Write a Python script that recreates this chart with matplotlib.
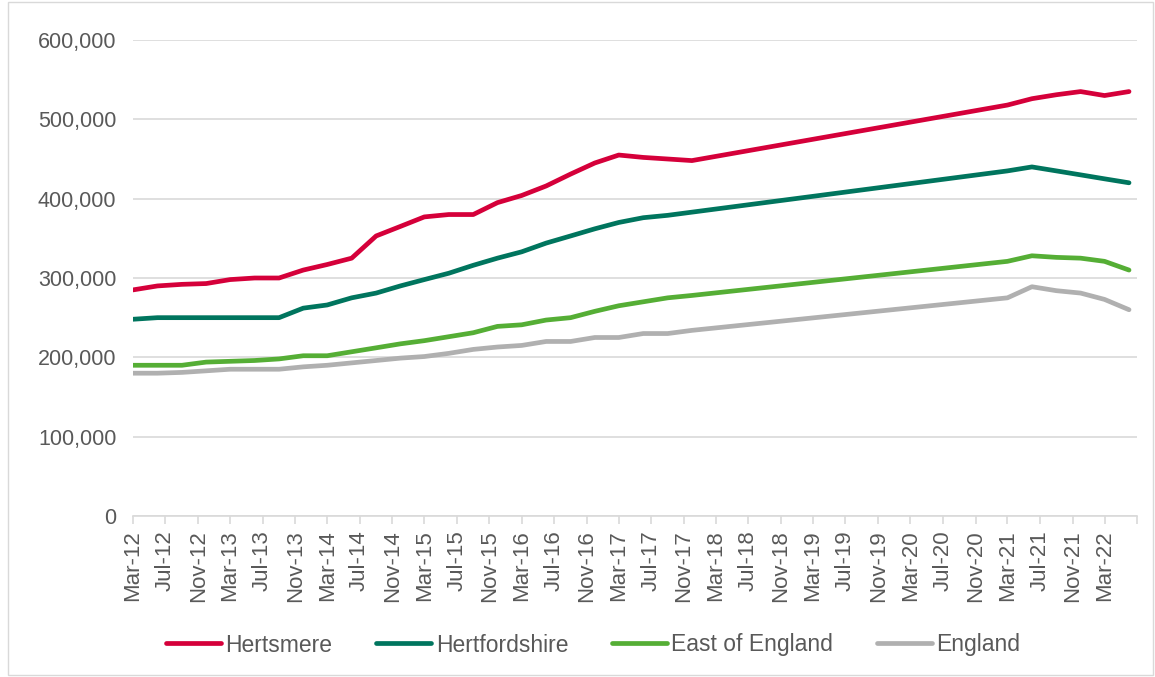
import matplotlib
matplotlib.use("Agg")
import matplotlib.pyplot as plt
import matplotlib.dates as mdates
from matplotlib.patches import Rectangle
from matplotlib.ticker import FuncFormatter, MultipleLocator
import datetime as dt

plt.rcParams['font.family'] = ['Liberation Sans', 'DejaVu Sans']

# Data (quarterly observations; 2018-2020 not plotted as separate points)
dates = ["2012-03", "2012-06", "2012-09", "2012-12",
         "2013-03", "2013-06", "2013-09", "2013-12",
         "2014-03", "2014-06", "2014-09", "2014-12",
         "2015-03", "2015-06", "2015-09", "2015-12",
         "2016-03", "2016-06", "2016-09", "2016-12",
         "2017-03", "2017-06", "2017-09", "2017-12",
         "2021-03", "2021-06", "2021-09", "2021-12",
         "2022-03", "2022-06"]

hertsmere = [285000, 290000, 292000, 293000, 298000, 300000, 300000, 310000,
             317000, 325000, 353000, 365000, 377000, 380000, 380000, 395000,
             404000, 416000, 431000, 445000, 455000, 452000, 450000, 448000,
             518000, 526000, 531000, 535000, 530000, 535000]
hertfordshire = [248000, 250000, 250000, 250000, 250000, 250000, 250000, 262000,
                 266000, 275000, 281000, 290000, 298000, 306000, 316000, 325000,
                 333000, 344000, 353000, 362000, 370000, 376000, 379000, 383000,
                 435000, 440000, 435000, 430000, 425000, 420000]
east_of_england = [190000, 190000, 190000, 194000, 195000, 196000, 198000, 202000,
                   202000, 207000, 212000, 217000, 221000, 226000, 231000, 239000,
                   241000, 247000, 250000, 258000, 265000, 270000, 275000, 278000,
                   321000, 328000, 326000, 325000, 321000, 310000]
england = [180000, 180000, 181000, 183000, 185000, 185000, 185000, 188000,
           190000, 193000, 196000, 199000, 201000, 205000, 210000, 213000,
           215000, 220000, 220000, 225000, 225000, 230000, 230000, 234000,
           275000, 289000, 284000, 281000, 273000, 260000]

series_names = ["Hertsmere", "Hertfordshire", "East of England", "England"]
series_values = [hertsmere, hertfordshire, east_of_england, england]
series_colors = ["#D5003A", "#00755E", "#55AE35", "#B0B0B0"]

x = [dt.datetime.strptime(d, "%Y-%m") for d in dates]

fig = plt.figure(figsize=(11.55, 6.77), dpi=100)
ax = fig.add_axes([133/1155, 1-516/677, (1137-133)/1155, (516-40)/677])

for name, vals, col in zip(series_names, series_values, series_colors):
    ax.plot(x, vals, color=col, lw=3.4, label=name,
            solid_capstyle='round', solid_joinstyle='round')

ax.set_ylim(0, 600000)
ax.yaxis.set_major_locator(MultipleLocator(100000))
ax.yaxis.set_major_formatter(FuncFormatter(lambda v, p: f"{int(v):,}"))
ax.grid(axis='y', color='#D9D9D9', lw=1.2)
ax.set_axisbelow(True)

xmin = dt.datetime(2012, 3, 1)
xmax = dt.datetime(2022, 7, 1)
ax.set_xlim(xmin, xmax)
ticks = []
y, m = 2012, 3
while (y, m) <= (2022, 7):
    ticks.append(dt.datetime(y, m, 1))
    m += 4
    if m > 12:
        m -= 12
        y += 1
ax.set_xticks(ticks)
ax.set_xticklabels([t.strftime("%b-%y") if t < xmax else "" for t in ticks],
                   rotation=90)

for s in ['top', 'right', 'left']:
    ax.spines[s].set_visible(False)
ax.spines['bottom'].set_color('#D9D9D9')
ax.spines['bottom'].set_linewidth(1.2)
ax.tick_params(axis='x', colors='#D9D9D9', length=6, width=1.2, labelcolor='#595959',
               labelsize=16, pad=4)
ax.tick_params(axis='y', length=0, labelcolor='#595959', labelsize=15.5, pad=12)

leg = fig.legend(loc='center', bbox_to_anchor=(0.5135, 1-645/677), ncol=4, frameon=False,
                 fontsize=16.5, handlelength=2.4, handletextpad=0.2, columnspacing=1.9)
for t in leg.get_texts():
    t.set_color('#595959')

fig.patches.append(Rectangle((8/1155, 2/677), 1-10/1155, 1-4/677, transform=fig.transFigure,
                             fill=False, edgecolor='#D9D9D9', lw=1))

fig.savefig("out.png", dpi=100)
